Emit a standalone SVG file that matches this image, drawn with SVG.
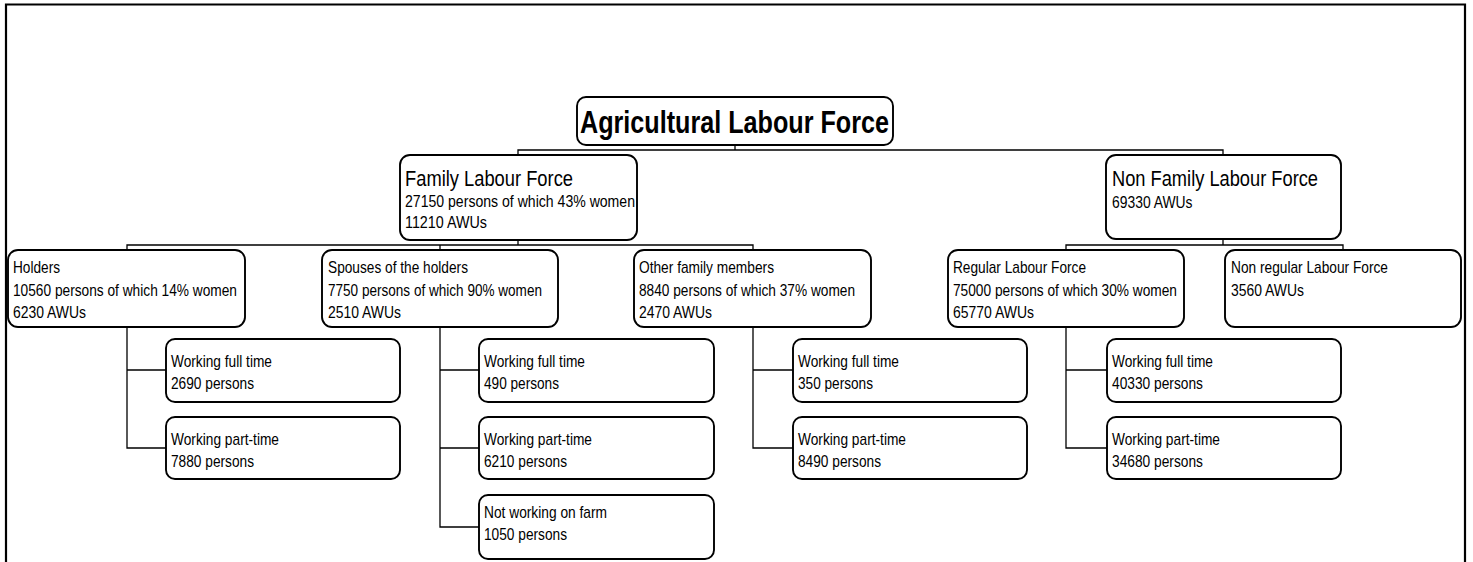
<svg xmlns="http://www.w3.org/2000/svg" width="1473" height="562" viewBox="0 0 1473 562">
<style>
.box{fill:#fff;stroke:#000;stroke-width:1.9}
.con{fill:none;stroke:#000;stroke-width:1.3}
text{font-family:"Liberation Sans",Arial,sans-serif;fill:#000}
.t{font-size:17px}
.h{font-size:22px}
.r{font-size:32px;font-weight:bold}
</style>
<rect width="1473" height="562" fill="#fff"/>
<path d="M6,562 V4.5 H1465 V562" fill="none" stroke="#000" stroke-width="2.2"/>
<g id="connectors">
<path class="con" d="M735,145 V150 M518,155 V150 H1223 V155"/>
<path class="con" d="M518,240 V245 M127,250 V245 H753 V250 M440,245 V250"/>
<path class="con" d="M1223,239 V245 M1066,250 V245 H1343 V250"/>
<path class="con" d="M127,327 V448 H166 M127,370 H166"/>
<path class="con" d="M440,327 V527 H479 M440,370 H479 M440,448 H479"/>
<path class="con" d="M753,327 V448 H793 M753,370 H793"/>
<path class="con" d="M1066,327 V448 H1107 M1066,370 H1107"/>
</g>
<g id="root">
<rect class="box" x="577" y="97" width="316" height="48" rx="9"/>
<text class="r" x="580" y="133" textLength="309" lengthAdjust="spacingAndGlyphs">Agricultural Labour Force</text>
</g>
<g id="family">
<rect class="box" x="400" y="155" width="237" height="85" rx="10"/>
<text class="h" x="405" y="186" textLength="168" lengthAdjust="spacingAndGlyphs">Family Labour Force</text>
<text class="t" x="405" y="207" textLength="230" lengthAdjust="spacingAndGlyphs">27150 persons of which 43% women</text>
<text class="t" x="405" y="228" textLength="82" lengthAdjust="spacingAndGlyphs">11210 AWUs</text>
</g>
<g id="nonfamily">
<rect class="box" x="1106" y="155" width="235" height="84" rx="10"/>
<text class="h" x="1112" y="186" textLength="206" lengthAdjust="spacingAndGlyphs">Non Family Labour Force</text>
<text class="t" x="1112" y="208" textLength="80.5" lengthAdjust="spacingAndGlyphs">69330 AWUs</text>
</g>
<g id="holders">
<rect class="box" x="8" y="250" width="237" height="77" rx="10"/>
<text class="t" x="13" y="273" textLength="47" lengthAdjust="spacingAndGlyphs">Holders</text>
<text class="t" x="13" y="296" textLength="224" lengthAdjust="spacingAndGlyphs">10560 persons of which 14% women</text>
<text class="t" x="13" y="318" textLength="73" lengthAdjust="spacingAndGlyphs">6230 AWUs</text>
</g>
<g id="spouses">
<rect class="box" x="322" y="250" width="236" height="77" rx="10"/>
<text class="t" x="328" y="273" textLength="140" lengthAdjust="spacingAndGlyphs">Spouses of the holders</text>
<text class="t" x="328" y="296" textLength="214" lengthAdjust="spacingAndGlyphs">7750 persons of which 90% women</text>
<text class="t" x="328" y="318" textLength="73" lengthAdjust="spacingAndGlyphs">2510 AWUs</text>
</g>
<g id="other">
<rect class="box" x="634" y="250" width="237" height="77" rx="10"/>
<text class="t" x="639" y="273" textLength="135" lengthAdjust="spacingAndGlyphs">Other family members</text>
<text class="t" x="639" y="296" textLength="216" lengthAdjust="spacingAndGlyphs">8840 persons of which 37% women</text>
<text class="t" x="639" y="318" textLength="73" lengthAdjust="spacingAndGlyphs">2470 AWUs</text>
</g>
<g id="regular">
<rect class="box" x="948" y="250" width="236" height="77" rx="10"/>
<text class="t" x="953" y="273" textLength="133" lengthAdjust="spacingAndGlyphs">Regular Labour Force</text>
<text class="t" x="953" y="296" textLength="224" lengthAdjust="spacingAndGlyphs">75000 persons of which 30% women</text>
<text class="t" x="953" y="318" textLength="81" lengthAdjust="spacingAndGlyphs">65770 AWUs</text>
</g>
<g id="nonregular">
<rect class="box" x="1225" y="250" width="236" height="77" rx="10"/>
<text class="t" x="1231" y="273" textLength="157" lengthAdjust="spacingAndGlyphs">Non regular Labour Force</text>
<text class="t" x="1231" y="296" textLength="73" lengthAdjust="spacingAndGlyphs">3560 AWUs</text>
</g>
<g id="holders-ft">
<rect class="box" x="166" y="339" width="234" height="63" rx="9"/>
<text class="t" x="171" y="367" textLength="101" lengthAdjust="spacingAndGlyphs">Working full time</text>
<text class="t" x="171" y="389" textLength="83" lengthAdjust="spacingAndGlyphs">2690 persons</text>
</g>
<g id="holders-pt">
<rect class="box" x="166" y="417" width="234" height="62" rx="9"/>
<text class="t" x="171" y="445" textLength="108" lengthAdjust="spacingAndGlyphs">Working part-time</text>
<text class="t" x="171" y="467" textLength="83" lengthAdjust="spacingAndGlyphs">7880 persons</text>
</g>
<g id="spouses-ft">
<rect class="box" x="479" y="339" width="235" height="63" rx="9"/>
<text class="t" x="484" y="367" textLength="101" lengthAdjust="spacingAndGlyphs">Working full time</text>
<text class="t" x="484" y="389" textLength="75" lengthAdjust="spacingAndGlyphs">490 persons</text>
</g>
<g id="spouses-pt">
<rect class="box" x="479" y="417" width="235" height="62" rx="9"/>
<text class="t" x="484" y="445" textLength="108" lengthAdjust="spacingAndGlyphs">Working part-time</text>
<text class="t" x="484" y="467" textLength="83" lengthAdjust="spacingAndGlyphs">6210 persons</text>
</g>
<g id="spouses-nw">
<rect class="box" x="479" y="495" width="235" height="64" rx="9"/>
<text class="t" x="484" y="518" textLength="123" lengthAdjust="spacingAndGlyphs">Not working on farm</text>
<text class="t" x="484" y="540" textLength="83" lengthAdjust="spacingAndGlyphs">1050 persons</text>
</g>
<g id="other-ft">
<rect class="box" x="793" y="339" width="234" height="63" rx="9"/>
<text class="t" x="798" y="367" textLength="101" lengthAdjust="spacingAndGlyphs">Working full time</text>
<text class="t" x="798" y="389" textLength="75" lengthAdjust="spacingAndGlyphs">350 persons</text>
</g>
<g id="other-pt">
<rect class="box" x="793" y="417" width="234" height="62" rx="9"/>
<text class="t" x="798" y="445" textLength="108" lengthAdjust="spacingAndGlyphs">Working part-time</text>
<text class="t" x="798" y="467" textLength="83" lengthAdjust="spacingAndGlyphs">8490 persons</text>
</g>
<g id="regular-ft">
<rect class="box" x="1107" y="339" width="234" height="63" rx="9"/>
<text class="t" x="1112" y="367" textLength="101" lengthAdjust="spacingAndGlyphs">Working full time</text>
<text class="t" x="1112" y="389" textLength="91" lengthAdjust="spacingAndGlyphs">40330 persons</text>
</g>
<g id="regular-pt">
<rect class="box" x="1107" y="417" width="234" height="62" rx="9"/>
<text class="t" x="1112" y="445" textLength="108" lengthAdjust="spacingAndGlyphs">Working part-time</text>
<text class="t" x="1112" y="467" textLength="91" lengthAdjust="spacingAndGlyphs">34680 persons</text>
</g>
</svg>
